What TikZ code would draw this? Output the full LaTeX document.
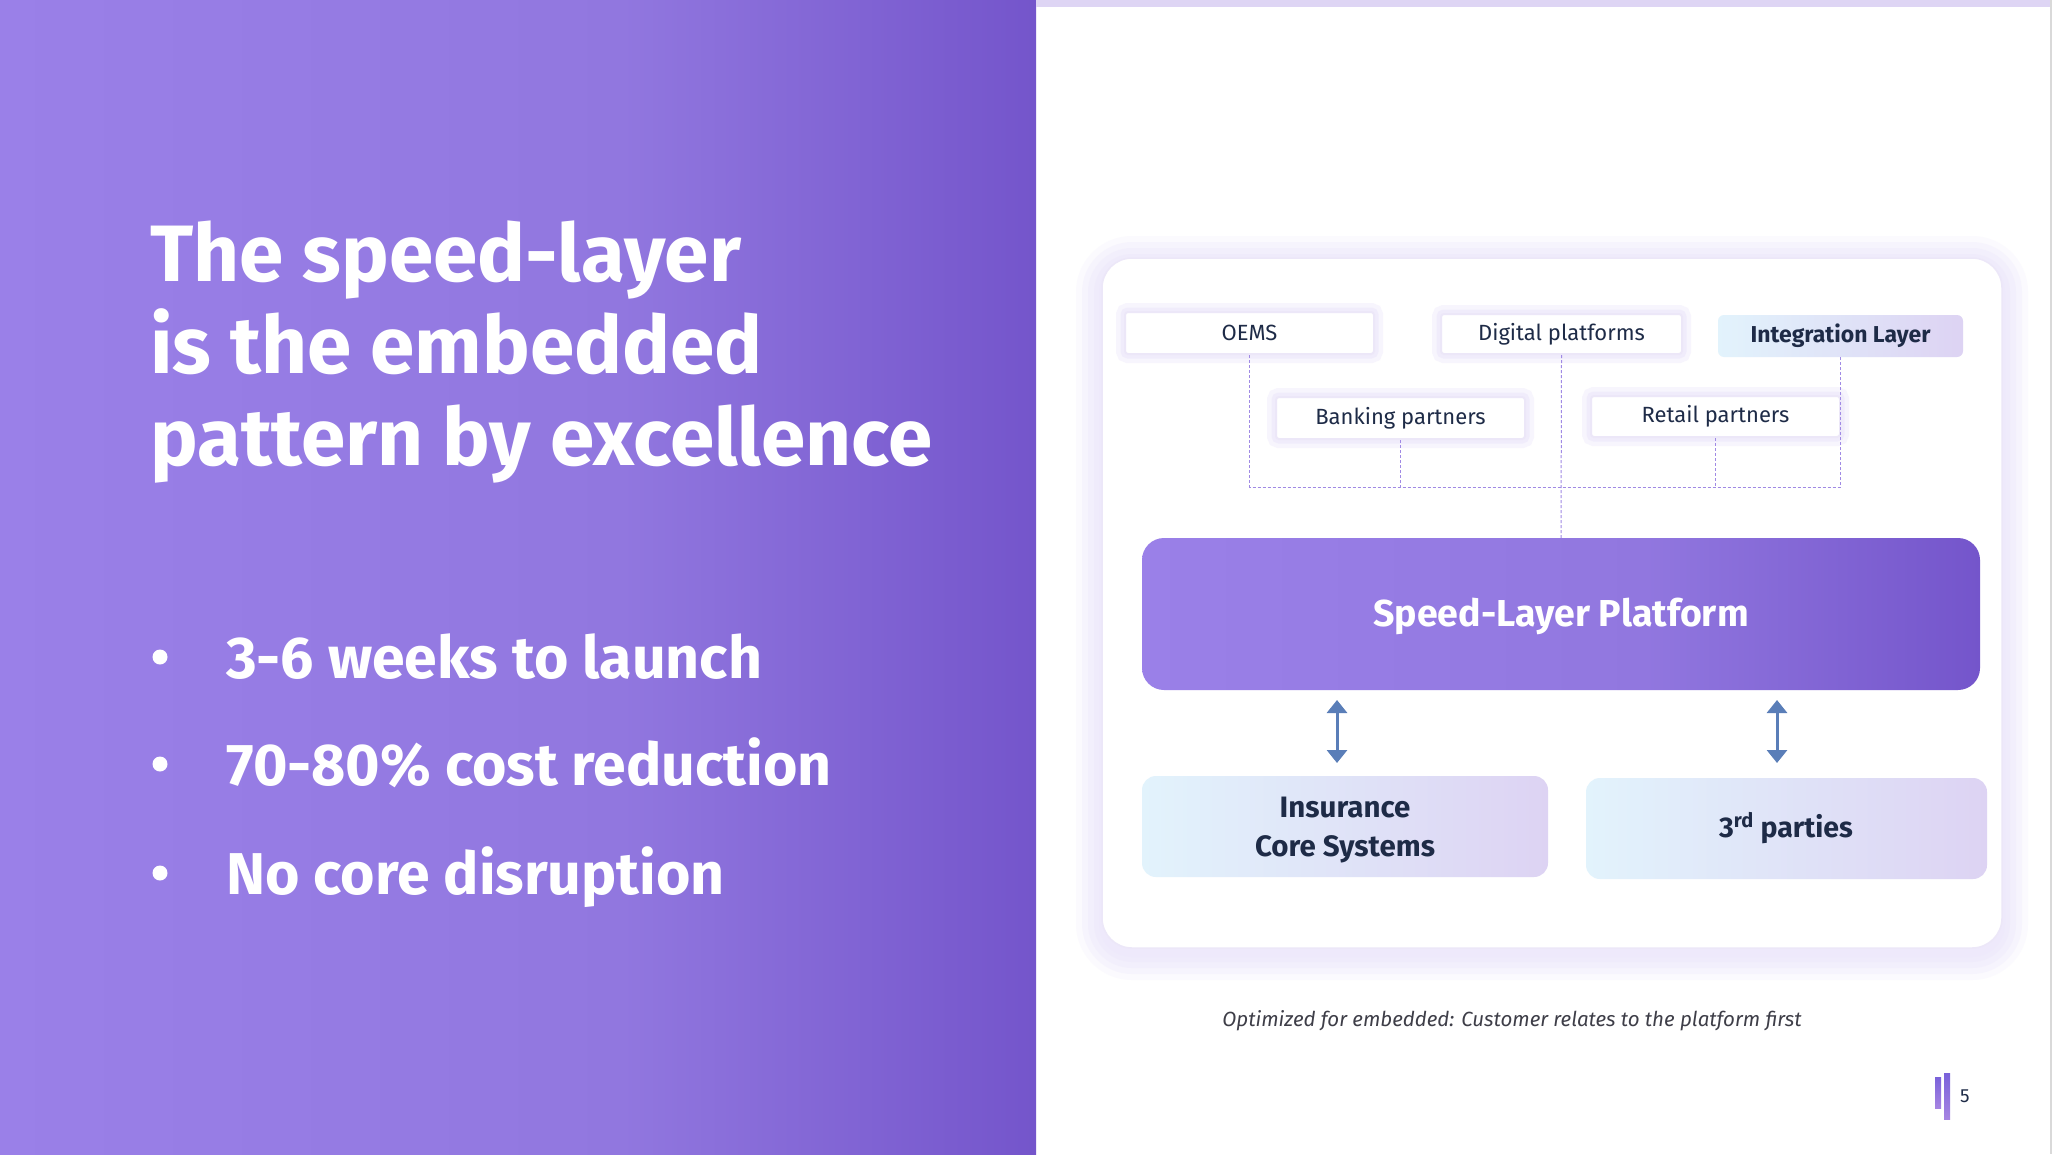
\documentclass[tikz,border=0pt]{standalone}
\usepackage{fontspec}
\setmainfont{Fira Sans}
\usetikzlibrary{arrows.meta}
\definecolor{pL}{HTML}{9A80E8}
\definecolor{pM}{HTML}{9177DF}
\definecolor{pR}{HTML}{7455CB}
\definecolor{strip}{HTML}{DED5F4}
\definecolor{navy}{HTML}{1E2B47}
\definecolor{glow}{HTML}{EEE9FB}
\definecolor{boxline}{HTML}{ECE7F8}
\definecolor{dashc}{HTML}{A08AE4}
\definecolor{arrc}{HTML}{5A7EB8}
\definecolor{gL}{HTML}{E2F3FC}
\definecolor{gR}{HTML}{DDD3F3}
\definecolor{capc}{HTML}{3E3E48}
\definecolor{barA}{HTML}{7A62DA}
\definecolor{barB}{HTML}{A684E2}
\pgfdeclarehorizontalshading{panel}{100bp}{color(0bp)=(pL); color(25bp)=(pL); color(55bp)=(pM); color(75bp)=(pR); color(100bp)=(pR)}
\pgfdeclarehorizontalshading{soft}{100bp}{color(0bp)=(gL); color(25bp)=(gL); color(75bp)=(gR); color(100bp)=(gR)}
\pgfdeclareverticalshading{barshade}{100bp}{color(0bp)=(barB); color(25bp)=(barB); color(75bp)=(barA); color(100bp)=(barA)}
\begin{document}
\begin{tikzpicture}[x=1pt,y=-1pt,
  titletext/.style={anchor=base west, inner sep=0pt, text=white, font=\fontsize{80}{92}\selectfont\bfseries},
  bullettext/.style={anchor=base west, inner sep=0pt, text=white, font=\fontsize{59}{66}\selectfont\bfseries},
  smallbox/.style={draw=boxline, line width=2pt, fill=white, rounded corners=3pt,
    minimum width=249pt, minimum height=42pt, inner sep=0pt, text=navy,
    font=\fontsize{22}{26}\selectfont,
    preaction={draw=glow, line width=18pt, opacity=0.45, rounded corners=8pt},
    preaction={draw=glow, line width=9pt, opacity=0.7, rounded corners=6pt}},
  softbox/.style={shading=soft, rounded corners=14pt, inner sep=0pt},
  boxtext/.style={anchor=base, inner sep=0pt, text=navy, font=\fontsize{29.5}{36}\selectfont\bfseries},
  bus/.style={draw=dashc, line width=1pt, dash pattern=on 3pt off 2pt},
  biarrow/.style={draw=arrc, line width=3pt, {Triangle[width=20pt,length=13pt]}-{Triangle[width=20pt,length=13pt]}}
]
\useasboundingbox (0,0) rectangle (2052,1154);
\fill[white] (0,0) rectangle (2052,1154);
% left panel
\shade[shading=panel] (0,0) rectangle (1036,1154);
\fill[strip] (1036,0) rectangle (2052,7);
\draw[line width=1.5pt, black!15] (2051,0) -- (2051,1154);

\node[titletext] (t1) at (150,281) {The speed-layer};
\node[titletext] (t2) at (150,373) {is the embedded};
\node[titletext] (t3) at (150,465) {pattern by excellence};

\fill[white] (160,657) circle (7.5);
\fill[white] (160,764) circle (7.5);
\fill[white] (160,873) circle (7.5);
\node[bullettext] (b1) at (226,678) {3-6 weeks to launch};
\node[bullettext] (b2) at (226,785) {70-80\% cost reduction};
\node[bullettext] (b3) at (226,894) {No core disruption};

% card glow
\foreach \d/\o in {26/0.22,20/0.32,14/0.42,8/0.55,3/0.75}{
  \fill[glow, opacity=\o, rounded corners=30+\d] (1102-\d,258-\d+4) rectangle (2002+\d,948+\d+6);
}
\node[draw=boxline, line width=1.5pt, fill=white, rounded corners=30pt,
  minimum width=900pt, minimum height=690pt, inner sep=0pt] (card) at (1552,603) {};

% small boxes
\node[smallbox] (oems) at (1249.5,333) {OEMS};
\node[smallbox, minimum width=241pt, minimum height=40pt] (dig) at (1561.5,334) {Digital platforms};
\node[smallbox] (bank) at (1400.5,418) {Banking partners};
\node[smallbox, minimum height=41pt] (retail) at (1715.5,416.5) {Retail partners};
\node[shading=soft, rounded corners=6pt, minimum width=245pt, minimum height=42pt, inner sep=0pt,
  text=navy, font=\fontsize{23}{27}\selectfont\bfseries] (ilay) at (1840.5,336) {Integration Layer};

% platform
\node[shading=panel, rounded corners=22pt, minimum width=838pt, minimum height=152pt, inner sep=0pt] (plat) at (1561,614) {};
\node[anchor=base, inner sep=0pt, text=white, font=\fontsize{37.5}{44}\selectfont\bfseries] (platlbl) at (1561,626) {Speed-Layer Platform};

% dashed bus
\coordinate (busy) at (1561,487);
\draw[bus] (oems.south) -- (oems.south |- busy) -| (ilay.south);
\draw[bus] (bank.south) -- (bank.south |- busy);
\draw[bus] (retail.south) -- (retail.south |- busy);
\draw[bus] (dig.south) -- (plat.north);

% bottom boxes
\node[softbox, minimum width=406pt, minimum height=101pt] (ins) at (1345,826.5) {};
\node[boxtext] (insl1) at (1345,817) {Insurance};
\node[boxtext] (insl2) at (1345,856) {Core Systems};
\node[softbox, minimum width=401pt, minimum height=101pt] (third) at (1786.5,828.5) {};
\node[boxtext, font=\fontsize{28.5}{34}\selectfont\bfseries] (thirdl) at (1786,837) {3\textsuperscript{rd} parties};

% arrows
\coordinate (a1t) at (1337,700);
\coordinate (a1b) at (1337,763);
\coordinate (a2t) at (1777,700);
\coordinate (a2b) at (1777,763);
\draw[biarrow] (a1t) -- (a1b);
\draw[biarrow] (a2t) -- (a2b);

% caption
\node[inner sep=0pt, text=capc, font=\fontsize{20.5}{24}\selectfont\itshape] (cap) at (1512,1021) {Optimized for embedded: Customer relates to the platform first};

% page number
\shade[shading=barshade] (1935,1077) rectangle (1941,1108);
\shade[shading=barshade] (1944,1073) rectangle (1950,1119);
\node[inner sep=0pt, text=navy, font=\fontsize{19}{22}\selectfont, anchor=base west] (pnum) at (1960,1102) {5};
\end{tikzpicture}
\end{document}
